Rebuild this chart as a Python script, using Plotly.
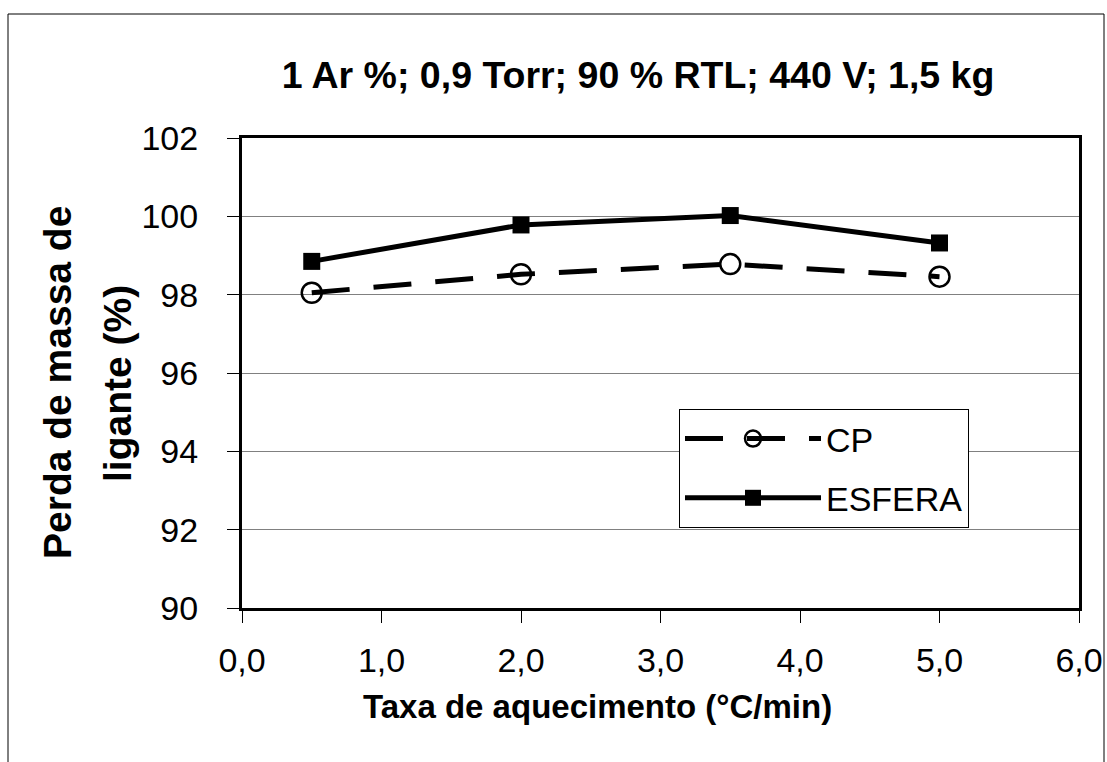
import plotly.graph_objects as go

taxa = [0.5, 2.0, 3.5, 5.0]
cp = [98.05, 98.52, 98.78, 98.46]
esfera = [98.85, 99.78, 100.02, 99.32]

title_text = "1 Ar %; 0,9 Torr; 90 % RTL; 440 V; 1,5 kg"
x_title = "Taxa de aquecimento (°C/min)"
y_title_lines = ["Perda de massa de", "ligante (%)"]
x_ticks = [0, 1, 2, 3, 4, 5, 6]
x_ticklabels = ["0,0", "1,0", "2,0", "3,0", "4,0", "5,0", "6,0"]
y_ticks = [90, 92, 94, 96, 98, 100, 102]

fig = go.Figure()
fig.add_trace(go.Scatter(
    x=taxa, y=cp, name="CP", mode="lines+markers", legendgroup="a",
    line=dict(color="black", width=5, dash="38px,24px"),
    marker=dict(symbol="circle-open", size=20, color="black", line=dict(width=2.5, color="black")),
))
fig.add_trace(go.Scatter(
    x=taxa, y=esfera, name="ESFERA", mode="lines+markers", legendgroup="b",
    line=dict(color="black", width=5),
    marker=dict(symbol="square", size=17, color="black"),
))

font = "Liberation Sans, Arial, sans-serif"
W, H = 1107, 762
L, R, T, B = 242, 28, 138, 154
pw, ph = W - L - R, H - T - B

def px_to_paper_x(px):
    return (px - L) / pw

def px_to_paper_y(py):
    return (H - B - py) / ph

annotations = [
    dict(text="<b>" + y_title_lines[0] + "</b>", textangle=-90, xref="paper", yref="paper",
         x=px_to_paper_x(57), y=px_to_paper_y(383), xanchor="center", yanchor="middle",
         showarrow=False, font=dict(size=39, family=font, color="black")),
    dict(text="<b>" + y_title_lines[1] + "</b>", textangle=-90, xref="paper", yref="paper",
         x=px_to_paper_x(117), y=px_to_paper_y(383), xanchor="center", yanchor="middle",
         showarrow=False, font=dict(size=39, family=font, color="black")),
    dict(text="<b>" + x_title + "</b>", xref="paper", yref="paper",
         x=px_to_paper_x(597), y=px_to_paper_y(706), xanchor="center", yanchor="middle",
         showarrow=False, font=dict(size=33, family=font, color="black")),
]

fig.update_layout(
    width=W, height=H,
    margin=dict(l=L, r=R, t=T, b=B),
    paper_bgcolor="white", plot_bgcolor="white",
    font=dict(family=font, color="black", size=34),
    title=dict(text="<b>" + title_text + "</b>", x=px_to_paper_x(638),
               xanchor="center", xref="paper", y=0.902, yanchor="middle",
               font=dict(size=37.5, family=font, color="black")),
    showlegend=True,
    legend=dict(x=px_to_paper_x(679), y=px_to_paper_y(409), xanchor="left", yanchor="top",
                bordercolor="black", borderwidth=1, bgcolor="white",
                font=dict(size=34, family=font), tracegroupgap=12, itemwidth=136,
                traceorder="grouped"),
    xaxis=dict(range=[0, 6], tickvals=x_ticks, ticktext=x_ticklabels, automargin=False,
               showgrid=False, zeroline=False,
               showline=True, linecolor="black", linewidth=3, mirror=True,
               ticks="outside", ticklen=12, tickwidth=1, tickcolor="black",
               tickfont=dict(size=34), ticklabelstandoff=8),
    yaxis=dict(range=[90, 102], tickvals=y_ticks, automargin=False,
               showgrid=True, gridcolor="#808080", gridwidth=1, zeroline=False,
               showline=True, linecolor="black", linewidth=3, mirror=True,
               ticks="outside", ticklen=12, tickwidth=1, tickcolor="black",
               tickfont=dict(size=34), ticklabelstandoff=22),
    annotations=annotations,
    shapes=[dict(type="rect", xref="paper", yref="paper",
                 x0=px_to_paper_x(8), x1=px_to_paper_x(1104), y0=px_to_paper_y(800), y1=px_to_paper_y(14),
                 line=dict(color="black", width=1), fillcolor="rgba(0,0,0,0)", layer="below")],
)

fig.write_html("out.html", config={"displayModeBar": False},
               post_script="document.body.style.margin='0';")
